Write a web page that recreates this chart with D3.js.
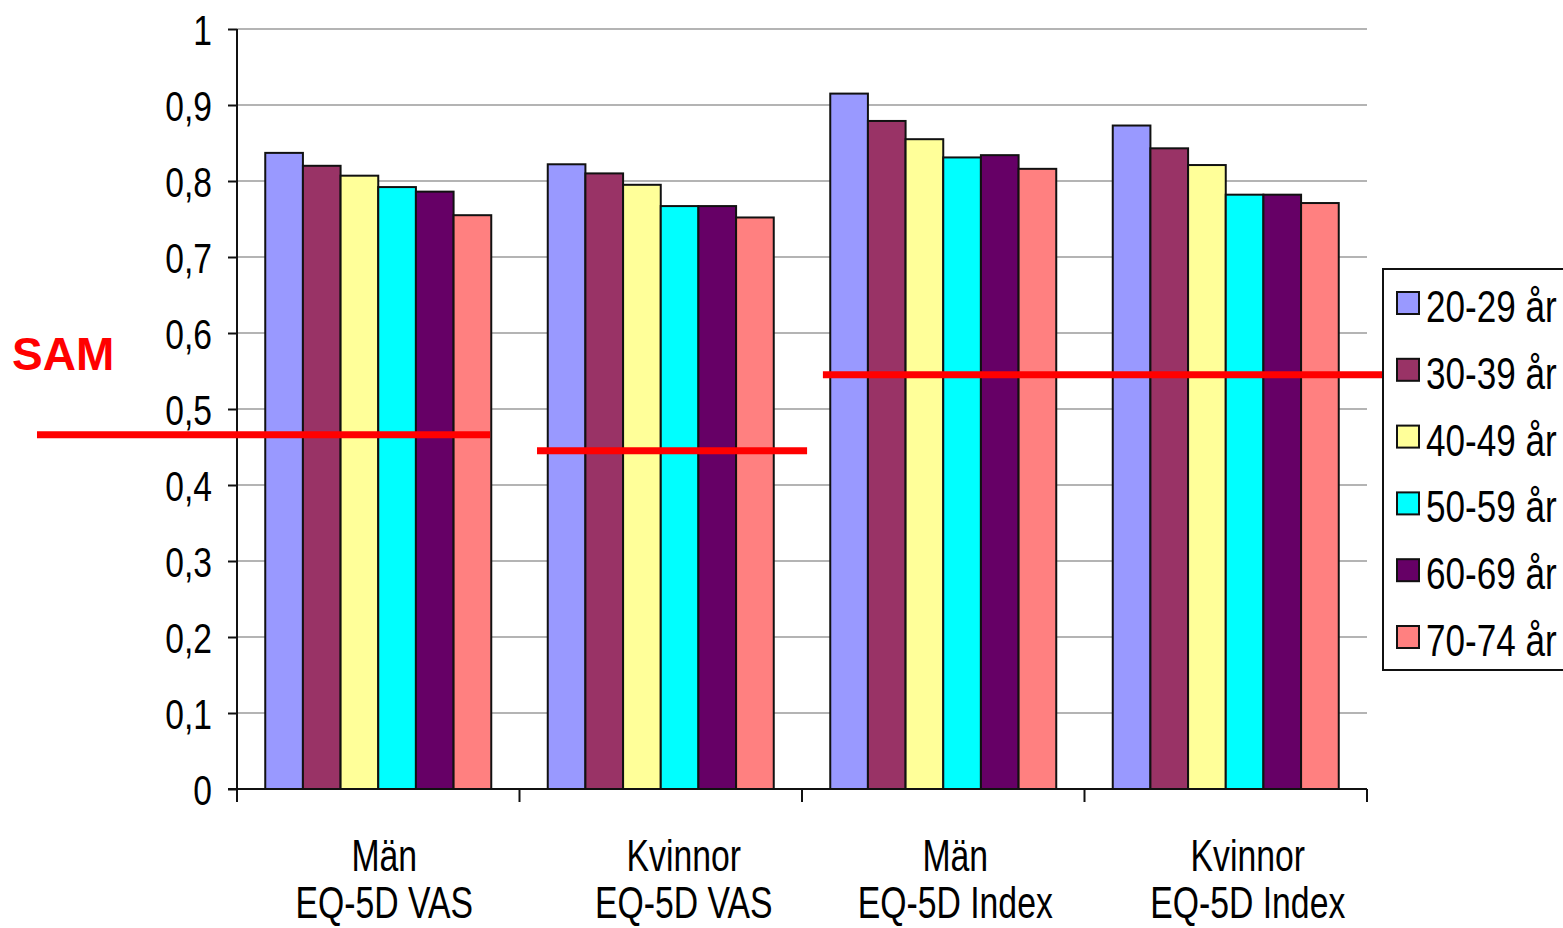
<!DOCTYPE html>
<html>
<head>
<meta charset="utf-8">
<script src="https://cdn.jsdelivr.net/npm/d3@7"></script>
<style>
  body { margin: 0; background: #fff; }
  text { font-family: "Liberation Sans", Arial, sans-serif; }
</style>
</head>
<body>
<div id="chart"></div>
<script>
// chart data
var categories = ["Män|EQ-5D VAS", "Kvinnor|EQ-5D VAS", "Män|EQ-5D Index", "Kvinnor|EQ-5D Index"];
var ageGroups = ["20-29 år", "30-39 år", "40-49 år", "50-59 år", "60-69 år", "70-74 år"];
var colors = ["#9999FF", "#993366", "#FFFF99", "#00FFFF", "#660066", "#FF8080"];
// one row per category, one value per age group
var values = [
    [0.837, 0.820, 0.807, 0.792, 0.786, 0.755],
    [0.822, 0.810, 0.795, 0.767, 0.767, 0.752],
    [0.915, 0.879, 0.855, 0.831, 0.834, 0.816],
    [0.873, 0.843, 0.821, 0.782, 0.782, 0.771]
];
var yTicks = [0, 0.1, 0.2, 0.3, 0.4, 0.5, 0.6, 0.7, 0.8, 0.9, 1];
// SAM reference lines: value and span in category units
var samLines = [
    { value: 0.466, from: -0.708, to: 0.896 },
    { value: 0.445, from: 1.062, to: 2.018 },
    { value: 0.545, from: 2.074, to: 4.106 }
];

var width = 1563, height = 928;
var margin = { left: 237, right: 196, top: 29, bottom: 139 };
// labels in the original sit a little right of the group centre
var labelShift = [6, 23, 12, 22];

var svg = d3.select("#chart").append("svg")
    .attr("width", width)
    .attr("height", height);

var x0 = d3.scaleBand()
    .domain(categories)
    .range([margin.left, width - margin.right])
    .paddingInner(0.2)
    .paddingOuter(0.1);
var xCat = d3.scaleLinear()
    .domain([0, categories.length])
    .range([margin.left, width - margin.right]);
var x1 = d3.scaleBand()
    .domain(ageGroups)
    .range([0, x0.bandwidth()]);
var y = d3.scaleLinear()
    .domain([0, 1])
    .range([height - margin.bottom, margin.top]);

// gridlines
svg.append("g")
    .selectAll("line")
    .data(yTicks.filter(function (d) { return d > 0; }))
    .enter().append("line")
    .attr("x1", margin.left)
    .attr("x2", width - margin.right)
    .attr("y1", function (d) { return y(d); })
    .attr("y2", function (d) { return y(d); })
    .attr("stroke", "#b4b4b4")
    .attr("stroke-width", 2);

// bars
var groups = svg.append("g")
    .selectAll("g")
    .data(categories)
    .enter().append("g")
    .attr("transform", function (d) { return "translate(" + x0(d) + ",0)"; });

groups.selectAll("rect")
    .data(function (d, i) {
        return ageGroups.map(function (a, j) { return { age: a, value: values[i][j], color: colors[j] }; });
    })
    .enter().append("rect")
    .attr("x", function (d) { return x1(d.age); })
    .attr("width", x1.bandwidth())
    .attr("y", function (d) { return y(d.value); })
    .attr("height", function (d) { return y(0) - y(d.value); })
    .attr("fill", function (d) { return d.color; })
    .attr("stroke", "#111")
    .attr("stroke-width", 2);

// y axis
var yAxis = svg.append("g")
    .attr("transform", "translate(" + margin.left + ",0)")
    .call(d3.axisLeft(y)
        .tickValues(yTicks)
        .tickSize(9)
        .tickPadding(0));
yAxis.select(".domain").remove();
yAxis.selectAll(".tick line").attr("stroke", "#111").attr("stroke-width", 2);
yAxis.selectAll(".tick text").remove();
yAxis.selectAll(".tick").append("text")
    .attr("transform", "translate(-25,0) scale(0.8,1)")
    .attr("dy", "0.36em")
    .attr("text-anchor", "end")
    .attr("fill", "#000")
    .style("font-size", "42px")
    .text(function (d) { return d3.format("")(d).replace(".", ","); });

svg.append("line")
    .attr("x1", margin.left).attr("x2", margin.left)
    .attr("y1", margin.top).attr("y2", y(0) + 13)
    .attr("stroke", "#111").attr("stroke-width", 2);

// x axis
svg.append("line")
    .attr("x1", margin.left - 9).attr("x2", width - margin.right)
    .attr("y1", y(0)).attr("y2", y(0))
    .attr("stroke", "#111").attr("stroke-width", 2);
svg.append("g")
    .selectAll("line")
    .data(d3.range(1, categories.length + 1))
    .enter().append("line")
    .attr("x1", function (d) { return xCat(d); })
    .attr("x2", function (d) { return xCat(d); })
    .attr("y1", y(0))
    .attr("y2", y(0) + 13)
    .attr("stroke", "#111").attr("stroke-width", 2);

var xLabels = svg.append("g")
    .selectAll("g")
    .data(categories)
    .enter().append("g")
    .attr("transform", function (d, i) { return "translate(" + (x0(d) + x0.bandwidth() / 2 + labelShift[i]) + ",0)"; });
xLabels.each(function (d) {
    var lines = d.split("|");
    var g = d3.select(this);
    lines.forEach(function (t, i) {
        g.append("text")
            .attr("transform", "translate(0," + (871 + i * 47) + ") scale(0.75,1)")
            .attr("text-anchor", "middle")
            .attr("fill", "#000")
            .style("font-size", "45px")
            .text(t);
    });
});

// SAM reference lines
svg.append("g")
    .selectAll("line")
    .data(samLines)
    .enter().append("line")
    .attr("x1", function (d) { return xCat(d.from); })
    .attr("x2", function (d) { return xCat(d.to); })
    .attr("y1", function (d) { return y(d.value); })
    .attr("y2", function (d) { return y(d.value); })
    .attr("stroke", "#FF0000")
    .attr("stroke-width", 7);

svg.append("text")
    .attr("x", 12)
    .attr("y", 370)
    .attr("fill", "#FF0000")
    .style("font-size", "46px")
    .style("font-weight", "bold")
    .text("SAM");

// legend
var legend = svg.append("g").attr("transform", "translate(1383,269)");
legend.append("rect")
    .attr("width", 200)
    .attr("height", 401)
    .attr("fill", "#fff")
    .attr("stroke", "#111")
    .attr("stroke-width", 2);
var items = legend.selectAll(".item")
    .data(ageGroups)
    .enter().append("g")
    .attr("class", "item")
    .attr("transform", function (d, i) { return "translate(0," + (34 + i * 66.8) + ")"; });
items.append("rect")
    .attr("x", 14)
    .attr("y", -11)
    .attr("width", 22)
    .attr("height", 22)
    .attr("fill", function (d, i) { return colors[i]; })
    .attr("stroke", "#111")
    .attr("stroke-width", 2);
items.append("text")
    .attr("transform", "translate(43,19) scale(0.78,1)")
    .attr("fill", "#000")
    .style("font-size", "45px")
    .text(function (d) { return d; });
</script>
</body>
</html>
